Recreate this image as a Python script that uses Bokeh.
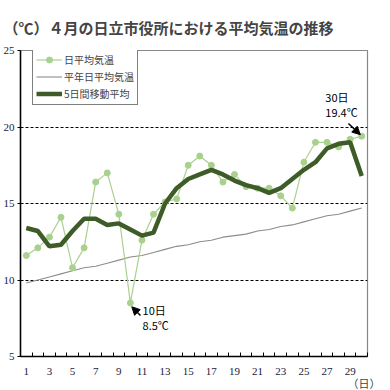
from bokeh.plotting import figure
from bokeh.models import (Range1d, FixedTicker, Label, Arrow, NormalHead, Legend, LegendItem,
                          ColumnDataSource, Title)
from bokeh.embed import file_html
from bokeh.resources import INLINE

days = list(range(1, 31))
daily = [11.6, 12.1, 12.8, 14.1, 10.8, 12.1, 16.4, 17.0, 14.3, 8.5,
         12.6, 14.3, 15.1, 15.3, 17.5, 18.1, 17.5, 16.4, 16.9, 16.1,
         16.0, 16.0, 15.5, 14.7, 17.7, 19.0, 19.0, 18.7, 19.2, 19.4]
normal = [9.8, 10.0, 10.2, 10.4, 10.6, 10.8, 10.9, 11.1, 11.3, 11.5,
          11.6, 11.8, 12.0, 12.2, 12.3, 12.5, 12.6, 12.8, 12.9, 13.0,
          13.2, 13.3, 13.5, 13.6, 13.8, 14.0, 14.2, 14.3, 14.5, 14.7]
moving = [13.4, 13.2, 12.2, 12.3, 13.2, 14.0, 14.0, 13.6, 13.7, 13.3,
          12.9, 13.1, 15.0, 16.0, 16.6, 16.9, 17.2, 16.9, 16.5, 16.2,
          16.0, 15.7, 16.0, 16.6, 17.2, 17.7, 18.6, 18.9, 19.0, 16.8]
x_tick_days = list(range(1, 30, 2))
y_ticks = [5, 10, 15, 20, 25]
grid_values = [10, 15, 20]

src = ColumnDataSource(dict(day=days, daily=daily, normal=normal, moving=moving))

p = figure(frame_width=347, frame_height=306, output_backend="svg", toolbar_location=None,
           x_range=Range1d(0.5, 30.5), y_range=Range1d(5, 25),
           min_border_left=17, min_border_right=18, min_border_top=50, min_border_bottom=34)
p.background_fill_color = "white"
p.border_fill_color = "white"
p.outline_line_color = "#888888"
p.outline_line_width = 1.2

p.title.text = "（℃）４月の日立市役所における平均気温の推移"
p.title.text_font = "Noto Sans CJK JP"
p.title.text_font_size = "15px"
p.title.text_font_style = "bold"
p.title.align = "left"
p.title.offset = -17
p.title.standoff = 25

unit_title = Title(text="（日）", align="right", offset=-13, standoff=-10,
                   text_font="Noto Sans CJK JP", text_font_size="11px",
                   text_font_style="normal")
p.add_layout(unit_title, "below")

# axes
p.xaxis.ticker = FixedTicker(ticks=x_tick_days, minor_ticks=[d + 0.5 for d in range(0, 31)])
p.xaxis.major_tick_line_color = None
p.xaxis.minor_tick_in = 4
p.xaxis.minor_tick_out = 0
p.xaxis.minor_tick_line_color = "black"
p.xaxis.axis_line_color = "black"
p.xaxis.axis_line_width = 1.5
p.xaxis.major_label_standoff = 5
p.xaxis.major_label_text_font = "Liberation Serif"
p.xaxis.major_label_text_font_size = "11px"
p.xaxis.major_label_text_color = "#1a1a3a"

p.yaxis.ticker = FixedTicker(ticks=y_ticks)
p.yaxis.major_tick_out = 3
p.yaxis.major_tick_in = 0
p.yaxis.minor_tick_line_color = None
p.yaxis.axis_line_color = "black"
p.yaxis.axis_line_width = 1.5
p.yaxis.major_label_standoff = 3
p.yaxis.major_label_text_font = "Liberation Serif"
p.yaxis.major_label_text_font_size = "11px"
p.yaxis.major_label_text_color = "#1a1a3a"

p.xgrid.grid_line_color = None
p.ygrid.ticker = FixedTicker(ticks=grid_values)
p.ygrid.grid_line_color = "black"
p.ygrid.grid_line_dash = "3 2"
p.ygrid.grid_line_width = 1

# series
r_norm = p.line("day", "normal", source=src, line_color="#8c8c8c", line_width=1.1)
r_daily_l = p.line("day", "daily", source=src, line_color="#a9d18e", line_width=1.2)
r_daily_m = p.scatter("day", "daily", source=src, size=6, fill_color="#a9d18e",
                      line_color="#a9d18e")
r_mov = p.line("day", "moving", source=src, line_color="#3d5c28", line_width=4.5)

legend = Legend(items=[
    LegendItem(label="日平均気温", renderers=[r_daily_l, r_daily_m]),
    LegendItem(label="平年日平均気温", renderers=[r_norm]),
    LegendItem(label="5日間移動平均", renderers=[r_mov]),
], location=(12, 251))
legend.border_line_color = "black"
legend.border_line_width = 1
legend.background_fill_color = "white"
legend.background_fill_alpha = 1
legend.label_text_font = "Noto Sans CJK JP"
legend.label_text_font_size = "10px"
legend.glyph_width = 26
legend.glyph_height = 15
legend.spacing = 2
legend.padding = 3
legend.margin = 0
legend.label_standoff = 2
legend.label_height = 15
p.add_layout(legend, "center")

def lab(x, y, t, size="11px"):
    p.add_layout(Label(x=x, y=y, text=t,
                       text_font="Noto Sans CJK JP", text_font_size=size,
                       text_baseline="middle", text_align="left", text_color="black"))

lab(11.05, 8.05, "10日", "11px")
lab(11.05, 7.09, "8.5℃", "11px")
lab(26.85, 21.93, "30日", "11px")
lab(26.85, 21.0, "19.4℃", "11px")

p.add_layout(Arrow(end=NormalHead(size=8, fill_color="black", line_color="black"),
                   x_start=10.87, y_start=7.68, x_end=10.12, y_end=8.25,
                   line_color="black", line_width=1.5))
p.add_layout(Arrow(end=NormalHead(size=8, fill_color="black", line_color="black"),
                   x_start=28.85, y_start=20.23, x_end=29.88, y_end=19.5,
                   line_color="black", line_width=1.5))

open("out.html", "w").write(file_html(p, INLINE))
